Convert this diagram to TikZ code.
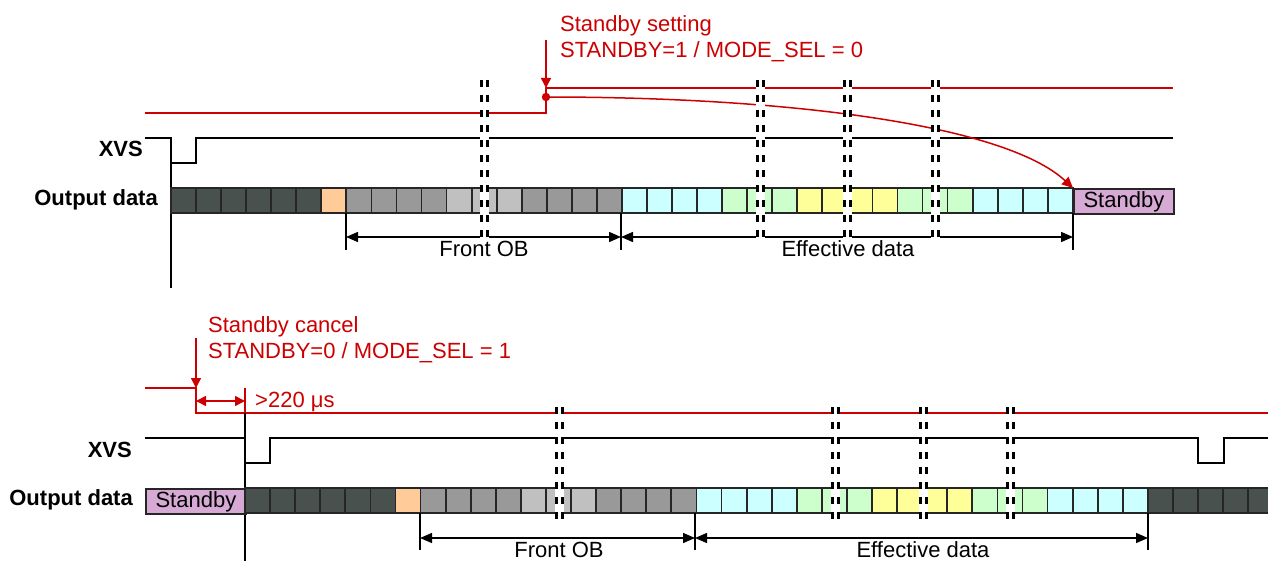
\documentclass[tikz,border=0pt]{standalone}
\usepackage{fontspec}
\setmainfont{Liberation Sans}
\usetikzlibrary{arrows.meta}
\definecolor{rd}{RGB}{204,0,0}
\definecolor{dk}{RGB}{73,81,79}
\definecolor{org}{RGB}{255,204,153}
\definecolor{gr}{RGB}{153,153,153}
\definecolor{lg}{RGB}{192,192,192}
\definecolor{cy}{RGB}{204,255,255}
\definecolor{gn}{RGB}{204,255,204}
\definecolor{ye}{RGB}{255,255,153}
\definecolor{sb}{RGB}{214,170,212}
\newcommand\brkpair[3]{%
  \fill[white] (#1-4.5,#2) rectangle (#1+4.5,#3);
  \draw[brkline] (#1-3,#2) -- (#1-3,#3) (#1+3,#2) -- (#1+3,#3);}
\begin{document}
\begin{tikzpicture}[x=1pt,y=-1pt,
  sig/.style={line width=1.5pt,black},
  rsig/.style={line width=1.5pt,rd},
  cellbox/.style={draw=black!85,line width=1.8pt},
  sbcell/.style={draw=black!85,line width=1.8pt,fill=sb,minimum width=100pt,minimum height=25pt,inner sep=0pt,anchor=north west,font=\fontsize{22}{26}\selectfont},
  dim/.style={line width=1.4pt,{Triangle[length=12pt,width=10pt]}-{Triangle[length=12pt,width=10pt]}},
  rdim/.style={line width=1.5pt,rd,{Triangle[length=10pt,width=10pt]}-{Triangle[length=10pt,width=10pt]}},
  rarr/.style={line width=1.5pt,rd,-{Triangle[length=10pt,width=10pt]}},
  tick/.style={line width=1.3pt},
  brkline/.style={line width=3pt,dash pattern=on 7pt off 8pt},
  lbl/.style={font=\fontsize{22}{26}\selectfont,inner sep=0pt},
  blbl/.style={lbl,font=\fontsize{22}{26}\selectfont\bfseries,anchor=base east},
  rlbl/.style={lbl,text=rd,anchor=base west}]
\useasboundingbox (0,0) rectangle (1268,561);
\clip (0,0) rectangle (1268,561);

% ================= TOP =================
\coordinate (tset) at (546,40);
\coordinate (thigh) at (546,88);
\coordinate (tdot) at (546,97);
\draw[rsig] (145,113) -- (546,113) -- (thigh) -- (1173,88);
\draw[sig] (145,138) -- (171,138) -- (171,163) -- (196,163) -- (196,138) -- (1173,138);
\draw[sig] (171,138) -- (171,288);
\foreach \c [count=\i from 0] in {dk,dk,dk,dk,dk,dk,org,gr,gr,gr,gr,lg,lg,lg,gr,gr,gr,gr,cy,cy,cy,cy,gn,gn,gn,ye,ye,ye,ye,gn,gn,gn,cy,cy,cy,cy}
  \filldraw[cellbox,fill=\c] ({171+\i*25.05},188) rectangle ++(25.05,25);
\node[sbcell] (sb1) at (1073,188) {Standby};
\coordinate (fa) at (346,237);
\coordinate (fb) at (621,237);
\coordinate (fc) at (1073,237);
\draw[tick] (346,213) -- (346,250);
\draw[tick] (621,213) -- (621,250);
\draw[tick] (1073,213) -- (1073,250);
\draw[dim] (fa) -- (fb);
\draw[dim] (fb) -- (fc);
\draw[rsig,-{Triangle[length=11pt,width=10pt]}] (tdot) .. controls (790,97) and (1005,125) .. (sb1.north west);
\brkpair{484}{80}{241}
\brkpair{760}{80}{241}
\brkpair{847}{80}{241}
\brkpair{935}{80}{241}
\draw[rarr] (tset) -- (thigh);
\fill[rd] (tdot) circle (4.2);
\node[rlbl] (t1) at (560,32) {Standby setting};
\node[rlbl] (t2) at (560,58) {STANDBY=1 / MODE\_SEL = 0};
\node[blbl] (xvs1) at (143,157) {XVS};
\node[blbl] (od1) at (158,206) {Output data};
\node[lbl,anchor=base] (fob1) at (484,257) {Front OB};
\node[lbl,anchor=base] (eff1) at (848,257) {Effective data};

% ================= BOTTOM =================
\coordinate (bset) at (196,338);
\coordinate (bhigh) at (196,388);
\coordinate (bstart) at (245,401);
\coordinate (bend) at (196,401);
\draw[rsig] (145,388) -- (bhigh) -- (196,413) -- (1268,413);
\draw[rsig] (245,388) -- (245,413);
\draw[sig] (245,413) -- (245,561);
\draw[sig] (145,438) -- (245,438) -- (245,463) -- (270,463) -- (270,438) -- (1198,438) -- (1198,463) -- (1224,463) -- (1224,438) -- (1268,438);
\node[sbcell] (sb2) at (145,488) {Standby};
\foreach \c [count=\i from 0] in {dk,dk,dk,dk,dk,dk,org,gr,gr,gr,gr,lg,lg,lg,gr,gr,gr,gr,cy,cy,cy,cy,gn,gn,gn,ye,ye,ye,ye,gn,gn,gn,cy,cy,cy,cy,dk,dk,dk,dk,dk}
  \filldraw[cellbox,fill=\c] ({245+\i*25.08},488) rectangle ++(25.08,25);
\coordinate (ga) at (420,538);
\coordinate (gb) at (695,538);
\coordinate (gc) at (1148,538);
\draw[tick] (420,513) -- (420,550);
\draw[tick] (695,513) -- (695,550);
\draw[tick] (1148,513) -- (1148,550);
\draw[dim] (ga) -- (gb);
\draw[dim] (gb) -- (gc);
\brkpair{559}{407}{523}
\brkpair{835}{407}{523}
\brkpair{923}{407}{523}
\brkpair{1010}{407}{523}
\draw[rarr] (bset) -- (bhigh);
\draw[rdim] (bend) -- (bstart);
\node[rlbl] (b1) at (208,332) {Standby cancel};
\node[rlbl] (b2) at (208,358) {STANDBY=0 / MODE\_SEL = 1};
\node[rlbl] (b3) at (255,407) {>220 μs};
\node[blbl] (xvs2) at (132,457) {XVS};
\node[blbl] (od2) at (133,505) {Output data};
\node[lbl,anchor=base] (fob2) at (559,557) {Front OB};
\node[lbl,anchor=base] (eff2) at (923,557) {Effective data};
\end{tikzpicture}
\end{document}
